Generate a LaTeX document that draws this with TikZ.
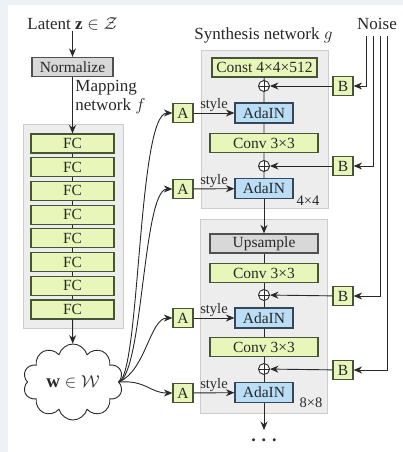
\documentclass[tikz,border=0pt]{standalone}
\usepackage{amsmath}
\usepackage{amssymb}
\usepackage{fontspec}
\setmainfont{Liberation Serif}
\usepackage{tikz}
\usetikzlibrary{arrows.meta,shapes.symbols,positioning,calc}
\definecolor{ganGreen}{RGB}{232,246,186}
\definecolor{ganGreenLine}{RGB}{70,84,56}
\definecolor{ganBlue}{RGB}{186,222,246}
\definecolor{ganBlueLine}{RGB}{56,70,92}
\definecolor{ganGray}{RGB}{216,216,216}
\definecolor{ganGrayLine}{RGB}{80,80,80}
\definecolor{ganPanel}{RGB}{237,237,237}
\definecolor{ganPanelLine}{RGB}{204,204,204}
\definecolor{ganBg}{RGB}{238,241,246}
\definecolor{ganInk}{RGB}{40,40,40}

\begin{document}
\begin{tikzpicture}[x=1pt, y=-1pt, >={Stealth[length=8.5pt,width=7pt]},
    color=ganInk, line width=0.9pt,
    lbl/.style={text=ganInk, inner sep=0pt, font=\fontsize{17}{19}\selectfont},
    small/.style={text=ganInk, inner sep=1pt, font=\fontsize{14.5}{15}\selectfont},
    greenbox/.style={draw=ganGreenLine, fill=ganGreen, line width=1.2pt, inner sep=0pt,
        minimum height=19pt, text=ganInk, font=\fontsize{15.5}{16}\selectfont},
    bluebox/.style={greenbox, draw=ganBlueLine, fill=ganBlue, minimum width=58pt, minimum height=20pt},
    graybox/.style={greenbox, draw=ganGrayLine, fill=ganGray},
    abox/.style={greenbox, minimum width=20pt, minimum height=19pt},
    panel/.style={draw=ganPanelLine, fill=ganPanel, line width=0.8pt, inner sep=0pt},
    plus/.style={circle, draw=ganInk, fill=white, line width=0.9pt, minimum size=11pt, inner sep=0pt,
        path picture={\draw[line width=0.8pt] (path picture bounding box.north) -- (path picture bounding box.south)
            (path picture bounding box.west) -- (path picture bounding box.east);}}]

    % background
    \fill[ganBg] (0,0) rectangle (403,452);
    \fill[white] (8,5) rectangle (403,452);

    % Mapping network
    \node[lbl] (latent) at (72.5,24) {Latent $\mathbf{z}\in\mathcal{Z}$};
    \node[graybox, minimum width=81pt] (norm) at (72.5,67) {Normalize};
    \node[lbl, anchor=west, align=left] (maplbl) at (75,97.5) {Mapping\\network $f$};
    \node[panel, minimum width=100pt, minimum height=204pt] (mapping) at (73,226) {};
    \foreach \i in {1,...,8}
        \node[greenbox, minimum width=83pt] (fc\i) at (72.5,{143.5+23.7*(\i-1)}) {FC};
    \foreach \i [evaluate=\i as \j using int(\i+1)] in {1,...,7}
        \draw (fc\i.south) -- (fc\j.north);
    \node[cloud, draw=ganInk, fill=white, cloud puffs=10, aspect=1.35, minimum width=100pt,
        minimum height=76pt, inner sep=0pt, font=\fontsize{19}{20}\selectfont] (w) at (73,382)
        {$\mathbf{w}\in\mathcal{W}$};
    \draw[->] (latent) -- (norm);
    \draw[->] (norm) -- (fc1);
    \draw[->] (fc8) -- (w);

    % Synthesis network
    \node[lbl] (synlbl) at (263.5,35) {Synthesis network $g$};
    \node[panel, minimum width=127pt, minimum height=158pt] (blk1) at (264.5,129) {};
    \node[panel, minimum width=127pt, minimum height=194pt] (blk2) at (263.5,316) {};

    \node[greenbox, minimum width=105pt] (const) at (264.5,67.5) {Const 4×4×512};
    \node[plus] (p1) at (264,86) {};
    \node[bluebox] (ada1) at (264,113) {AdaIN};
    \node[greenbox, minimum width=108pt] (conv1) at (264,143) {Conv 3×3};
    \node[plus] (p2) at (264,166) {};
    \node[bluebox] (ada2) at (264,188.5) {AdaIN};
    \node[small] at (308,201) {4×4};

    \node[graybox, minimum width=108pt] (up) at (264,243.5) {Upsample};
    \node[greenbox, minimum width=108pt] (conv2) at (264,273) {Conv 3×3};
    \node[plus] (p3) at (264,295) {};
    \node[bluebox] (ada3) at (264,318) {AdaIN};
    \node[greenbox, minimum width=108pt] (conv3) at (264,347) {Conv 3×3};
    \node[plus] (p4) at (264,369) {};
    \node[bluebox] (ada4) at (264,392.5) {AdaIN};
    \node[small] at (311,403) {8×8};
    \coordinate (out) at (264,430);
    \node[lbl, font=\fontsize{18}{18}\selectfont\bfseries] (dots) at (264,440) {. . .};

    \draw (const) -- (p1) -- (ada1) -- (conv1) -- (p2) -- (ada2);
    \draw[->] (ada2) -- (up);
    \draw (up) -- (conv2) -- (p3) -- (ada3) -- (conv3) -- (p4) -- (ada4);
    \draw[->] (ada4) -- (out);

    % Styles
    \node[abox] (a1) at (183,113) {A};
    \node[abox] (a2) at (183,189) {A};
    \node[abox] (a3) at (183,318) {A};
    \node[abox] (a4) at (183,393) {A};
    \foreach \i in {1,...,4}
        \draw[->] (a\i) -- node[small, above, inner sep=1pt] {style} (ada\i);

    \draw[->] (w.east) .. controls (140,372) and (138,113) .. (a1.west);
    \draw[->] (w.east) .. controls (143,372) and (143,189) .. (a2.west);
    \draw[->] (w.east) .. controls (146,370) and (150,318) .. (a3.west);
    \draw[->] (w.east) .. controls (146,380) and (150,393) .. (a4.west);

    % Noise
    \node[lbl] (noise) at (377,24) {Noise};
    \node[abox] (b1) at (343,86) {B};
    \node[abox] (b2) at (343,166) {B};
    \node[abox] (b3) at (343,296) {B};
    \node[abox] (b4) at (343,370) {B};
    \coordinate (n1) at (366,36);
    \coordinate (n2) at (373,36);
    \coordinate (n3) at (380,36);
    \coordinate (n4) at (387,36);
    \foreach \i in {1,...,4} {
        \draw[->] (n\i) |- (b\i.east);
        \draw[->] (b\i) -- (p\i);
    }
\end{tikzpicture}
\end{document}
